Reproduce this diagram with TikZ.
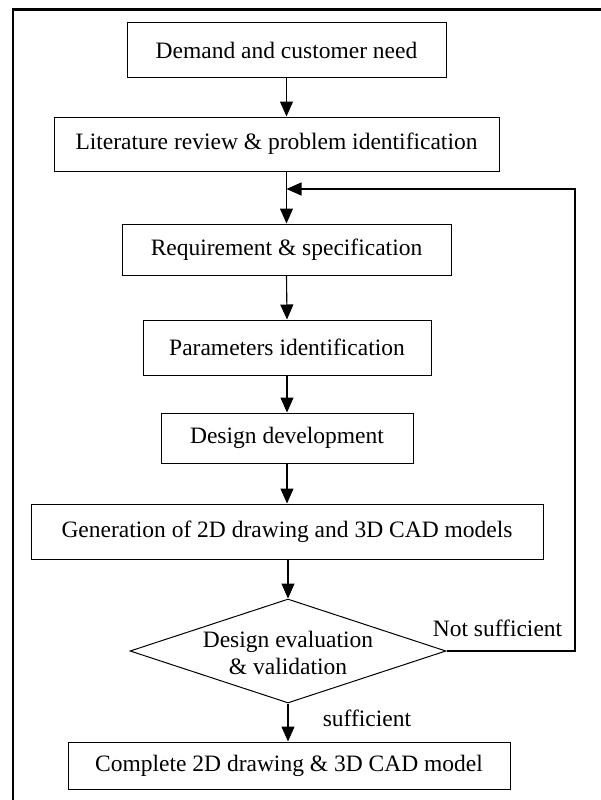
\documentclass[tikz,border=0pt]{standalone}
\usepackage{fontspec}
\setmainfont{Liberation Serif}
\usetikzlibrary{shapes.geometric,arrows.meta}

\begin{document}
\begin{tikzpicture}[x=1pt,y=-1pt,
  every node/.style={font=\fontsize{23.5}{27.5}\selectfont},
  stepbox/.style={draw, line width=1pt, rectangle, inner sep=0pt, align=center},
  decision/.style={draw, line width=1pt, diamond, inner sep=0pt},
  flow/.style={line width=1.1pt, -{Triangle[length=15pt,width=13pt]}},
  tag/.style={inner sep=0pt, anchor=center}]

  % page area
  \useasboundingbox (0,0) rectangle (601,800);

  % heavy outer frame (only top and left edges fall inside the page)
  \draw[line width=2.2pt] (13,812) -- (13,9.5) -- (612,9.5);

  % process steps
  \node[stepbox, minimum width=319pt, minimum height=54pt] (b1) at (286.5,50)    {Demand and customer need};
  \node[stepbox, minimum width=445pt, minimum height=54pt] (b2) at (276.5,144)   {Literature review \& problem identification};
  \node[stepbox, minimum width=329pt, minimum height=51pt] (b3) at (286.5,249.5) {Requirement \& specification};
  \node[stepbox, minimum width=288pt, minimum height=55pt] (b4) at (287,347.5)   {Parameters identification};
  \node[stepbox, minimum width=252pt, minimum height=50pt] (b5) at (287,438)     {Design development};
  \node[stepbox, minimum width=512pt, minimum height=55pt] (b6) at (287,531.5)   {Generation of 2D drawing and 3D CAD models};

  % decision
  \node[decision, minimum width=316pt, minimum height=104pt] (dec) at (288,651) {};
  \node[tag, align=center] (dectext) at (288,653) {Design evaluation\\\& validation};

  % final step
  \node[stepbox, minimum width=442pt, minimum height=47pt] (b7) at (289,765.5) {Complete 2D drawing \& 3D CAD model};

  % main flow
  \draw[flow] (b1.south) -- (b1.south |- b2.north);
  \draw[flow] (b2.south -| b3.north) -- (b3.north);
  \draw[flow] (b3.south) -- (b4.north);
  \draw[flow] (b4.south) -- (b5.north);
  \draw[flow] (b5.south) -- (b6.north);
  \draw[flow] (b6.south -| dec.north) -- (dec.north);
  \draw[flow] (dec.south) -- (dec.south |- b7.north);

  % feedback loop
  \coordinate (fbcorner) at (575,189);
  \draw[flow] (dec.east) -| (fbcorner) -- (fbcorner -| b3.north);

  % branch labels
  \node[tag] (notsuff) at (497.5,628) {Not sufficient};
  \node[tag] (suff)    at (367,718)   {sufficient};
\end{tikzpicture}
\end{document}
